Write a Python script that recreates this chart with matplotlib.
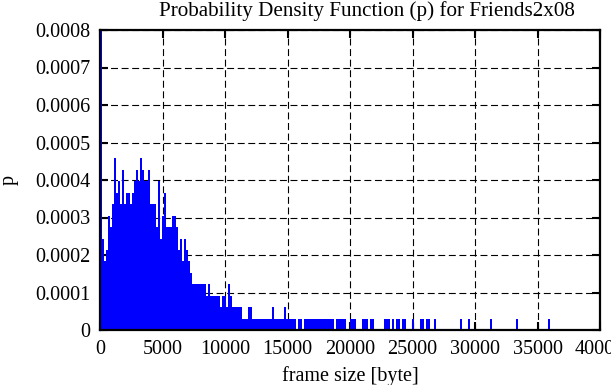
import numpy as np
import matplotlib
matplotlib.use("Agg")
import matplotlib.pyplot as plt

# histogram of frame sizes
bin_width = 160          # bytes per bar
p_step = 3.05e-5         # density of one count

# counts per bin, starting at 0 bytes (first bin is the clipped spike)
body_counts = [30, 8, 6, 7, 10, 9, 11, 15, 12, 13, 11, 14, 11, 12, 12, 11,
               12, 13, 14, 13, 15, 14, 13, 13, 14, 11, 11, 11, 9, 13, 8, 10,
               12, 9, 9, 9, 10, 10, 9, 7, 8, 6, 8, 7, 6, 5,
               4, 4, 4, 4, 4, 4, 4, 3, 4, 3, 3, 3, 3, 3,
               2, 3, 3, 2, 4, 3, 2, 2, 2, 2, 2, 1, 1, 1, 2, 2,
               1, 1, 1, 1, 1, 1, 1, 1, 1, 1, 2, 1, 1, 1, 1, 1, 2,
               1, 1, 1, 1, 1]

# isolated large frames in the tail (one count each), bin start in bytes
tail_sizes = [15840, 16000,
              16320, 16480, 16640, 16800, 16960, 17120, 17280, 17440, 17600,
              17760, 17920, 18080, 18240, 18400, 18560,
              18880, 19040, 19200, 19360, 19520,
              20000, 20160, 20320, 20960, 21120, 21280, 21600, 21760,
              22720, 22880, 23040, 23360, 23680, 23840, 24160, 24320,
              24960, 25600, 25760, 26080, 26240, 26720,
              28800, 29440, 31200, 33280, 35840]

xticks = [0, 5000, 10000, 15000, 20000, 25000, 30000, 35000, 40000]
yticks = [0, 0.0001, 0.0002, 0.0003, 0.0004, 0.0005, 0.0006, 0.0007, 0.0008]
ytick_labels = ["0", "0.0001", "0.0002", "0.0003", "0.0004", "0.0005",
                "0.0006", "0.0007", "0.0008"]

plt.rcParams["font.family"] = "Liberation Serif"
plt.rcParams["lines.scale_dashes"] = False

fig = plt.figure(figsize=(6.11, 3.85), dpi=100)
ax = fig.add_axes([100 / 611, 55 / 385, 500 / 611, 300 / 385])

body_x = np.arange(len(body_counts)) * bin_width
body_p = np.array(body_counts) * p_step
ax.bar(body_x, body_p, width=bin_width, align="edge", color="#0000ff",
       linewidth=0)
ax.bar(tail_sizes, [p_step] * len(tail_sizes), width=bin_width, align="edge",
       color="#0000ff", linewidth=0)

ax.set_xlim(0, 40000)
ax.set_ylim(0, 0.0008)
ax.set_xticks(xticks)
ax.set_xticklabels([str(v) for v in xticks])
ax.set_yticks(yticks)
ax.set_yticklabels(ytick_labels)

ax.set_axisbelow(True)
ax.grid(True, color="black", linewidth=0.8, linestyle=(0, (5.0, 2.6)))
ax.tick_params(direction="in", length=6, width=1.5, top=True, right=True,
               labelsize=14.5, pad=7)
for s in ax.spines.values():
    s.set_linewidth(1.6)

ax.set_xlabel("frame size [byte]", fontsize=14.5, labelpad=5)
ax.set_ylabel("p", fontsize=14.5, labelpad=12)
fig.text(367 / 611, 1 - 11 / 385, "Probability Density Function (p) for Friends2x08",
         ha="center", va="center", fontsize=15.2)

fig.savefig("out.png", dpi=100)
